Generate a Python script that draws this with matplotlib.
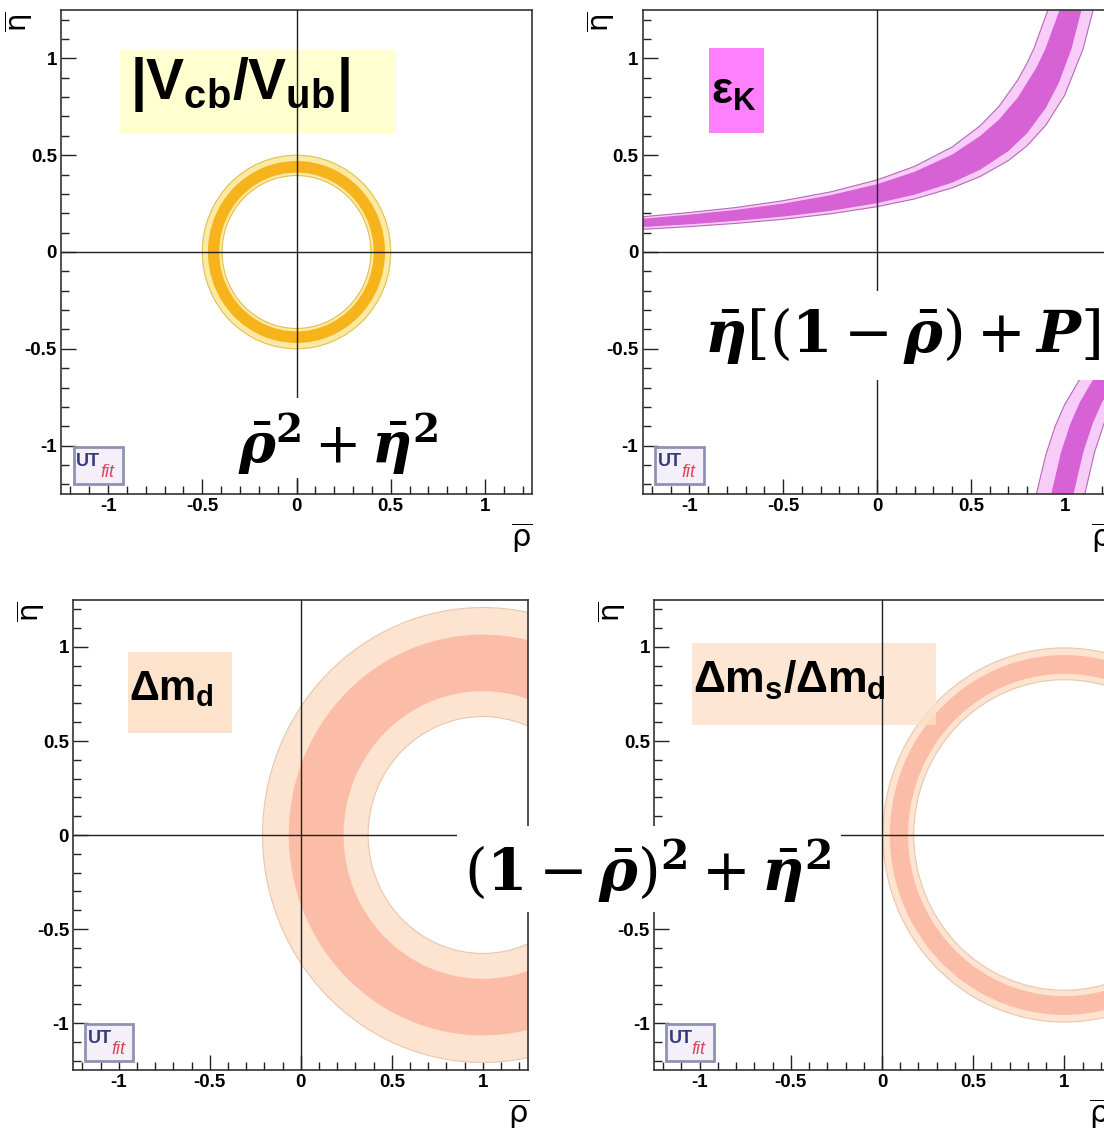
import matplotlib.pyplot as plt
from matplotlib import font_manager
from matplotlib.patches import Wedge, Circle, Polygon, Rectangle
from matplotlib.ticker import FixedLocator, MultipleLocator, FuncFormatter

installed = {f.name for f in font_manager.fontManager.ttflist}
NARROW = next(n for n in ('Liberation Sans Narrow', 'DejaVu Sans Condensed', 'Liberation Sans')
              if n in installed)

plt.rcParams['mathtext.fontset'] = 'custom'
for key in ('mathtext.rm', 'mathtext.it', 'mathtext.bf', 'mathtext.sf'):
    plt.rcParams[key] = NARROW + ':bold'
plt.rcParams['axes.unicode_minus'] = False

W, H = 1104, 1128
LIMITS = (-1.25, 1.25)
MAJOR_TICKS = [-1, -0.5, 0, 0.5, 1]

# |Vcb/Vub|: annulus around the origin, (inner, outer) radius
vub_center = (0.0, 0.0)
vub_light = (0.395, 0.500)
vub_dark = (0.410, 0.470)

# Delta m_d: annulus around (1, 0)
dmd_center = (1.0, 0.0)
dmd_light = (0.630, 1.210)
dmd_dark = (0.765, 1.066)

# Delta m_s / Delta m_d
dms_center = (1.0, 0.0)
dms_light = (0.826, 0.995)
dms_dark = (0.857, 0.957)

# epsilon_K, upper branch: band edges as (rho, eta) samples
ek_lo_rho = [-1.3, -1.25, -1.0, -0.75, -0.5, -0.25, 0.0, 0.2, 0.4, 0.55, 0.65, 0.75, 0.8, 0.836, 0.911, 0.927]
ek_lo_eta = [0.178, 0.182, 0.204, 0.230, 0.265, 0.310, 0.372, 0.442, 0.542, 0.652, 0.752, 0.888, 0.976, 1.05, 1.25, 1.3]
ek_do_rho = [-1.3, -1.25, -1.0, -0.75, -0.5, -0.25, 0.0, 0.2, 0.4, 0.55, 0.65, 0.75, 0.85, 0.898, 0.973, 0.988]
ek_do_eta = [0.168, 0.172, 0.193, 0.218, 0.250, 0.293, 0.350, 0.414, 0.503, 0.599, 0.684, 0.797, 0.953, 1.05, 1.25, 1.3]
ek_di_rho = [-1.3, -1.25, -1.0, -0.75, -0.5, -0.25, 0.0, 0.2, 0.4, 0.55, 0.7, 0.8, 0.9, 0.97, 1.037, 1.09, 1.101]
ek_di_eta = [0.127, 0.129, 0.143, 0.161, 0.183, 0.212, 0.252, 0.296, 0.358, 0.425, 0.521, 0.613, 0.744, 0.875, 1.05, 1.25, 1.3]
ek_li_rho = [-1.3, -1.25, -1.0, -0.75, -0.5, -0.25, 0.0, 0.2, 0.4, 0.55, 0.7, 0.8, 0.9, 1.0, 1.099, 1.152, 1.163]
ek_li_eta = [0.114, 0.117, 0.131, 0.148, 0.169, 0.197, 0.234, 0.274, 0.331, 0.390, 0.472, 0.549, 0.655, 0.809, 1.05, 1.25, 1.3]

# epsilon_K, lower branch
ek2_lo_rho = [0.83, 0.85, 0.9, 0.95, 1.0, 1.076, 1.15, 1.25, 1.35]
ek2_lo_eta = [-1.3, -1.249, -1.046, -0.899, -0.789, -0.665, -0.576, -0.489, -0.424]
ek2_do_rho = [0.91, 0.929, 0.98, 1.03, 1.08, 1.148, 1.25, 1.35]
ek2_do_eta = [-1.3, -1.249, -1.037, -0.889, -0.778, -0.665, -0.546, -0.464]
ek2_di_rho = [1.03, 1.05, 1.1, 1.15, 1.2, 1.3, 1.4]
ek2_di_eta = [-1.3, -1.24, -1.033, -0.886, -0.775, -0.62, -0.517]
ek2_li_rho = [1.09, 1.11, 1.16, 1.21, 1.26, 1.36, 1.46]
ek2_li_eta = [-1.3, -1.24, -1.033, -0.886, -0.775, -0.62, -0.517]

YELLOW = ('#fbe9a4', '#f6b31c', '#e0c04e')
MAGENTA = ('#f8ccf8', '#d762d5', '#b46ab4')
SALMON = ('#fde4d0', '#fbbda7', '#e9c6b0')

fig = plt.figure(figsize=(W / 100, H / 100), dpi=100)


def px_rect(x0, y0, x1, y1):
    return (x0 / W, 1 - y1 / H), (x1 - x0) / W, (y1 - y0) / H


def make_axes(x0, y0, x1, y1):
    (l, b), w, h = px_rect(x0, y0, x1, y1)
    ax = fig.add_axes([l, b, w, h])
    ax.set_xlim(*LIMITS)
    ax.set_ylim(*LIMITS)
    for axis in (ax.xaxis, ax.yaxis):
        axis.set_major_locator(FixedLocator(MAJOR_TICKS))
        axis.set_minor_locator(MultipleLocator(0.1))
        axis.set_major_formatter(FuncFormatter(lambda v, _: '%g' % v))
    ax.tick_params(which='both', direction='in', top=False, right=False,
                   width=1.0, color='#222222')
    ax.tick_params(which='major', length=11, labelsize=13.5, pad=3)
    ax.tick_params(which='minor', length=5.5)
    for lab in ax.get_xticklabels() + ax.get_yticklabels():
        lab.set_fontweight('bold')
        lab.set_family('Liberation Sans')
    for sp in ax.spines.values():
        sp.set_linewidth(1.2)
        sp.set_color('#333333')
    ax.axhline(0, color='#222222', lw=1.0, zorder=4)
    ax.axvline(0, color='#222222', lw=1.0, zorder=4)
    ax.annotate(r'$\overline{\mathrm{\eta}}$', xy=(0, 1), xycoords='axes fraction',
                xytext=(-42, -12), textcoords='offset pixels', rotation=90,
                ha='center', va='center', fontsize=21, math_fontfamily='dejavusans')
    ax.annotate(r'$\overline{\mathrm{\rho}}$', xy=(1, 0), xycoords='axes fraction',
                xytext=(-10, -44), textcoords='offset pixels',
                ha='center', va='center', fontsize=22, math_fontfamily='dejavusans')
    # UTfit logo
    ax.add_patch(Rectangle((0.027, 0.020), 0.104, 0.077, transform=ax.transAxes,
                           facecolor='#f4eff8', edgecolor='#8e93b3', lw=2, zorder=6))
    ax.text(0.032, 0.068, 'UT', transform=ax.transAxes, color='#343a7c', fontsize=13,
            fontweight='bold', family=NARROW, va='center', zorder=7)
    ax.text(0.083, 0.044, 'fit', transform=ax.transAxes, color='#d84a5c', fontsize=13,
            style='italic', family='Liberation Sans', va='center', zorder=7)
    return ax


def ring(ax, center, light, dark, colors):
    for (r_in, r_out), col in ((light, colors[0]), (dark, colors[1])):
        ax.add_patch(Wedge(center, r_out, 0, 360, width=r_out - r_in,
                           facecolor=col, edgecolor='none', zorder=2))
    for r in light:
        ax.add_patch(Circle(center, r, fill=False, edgecolor=colors[2], lw=0.8, zorder=2))


def band(ax, rho_a, eta_a, rho_b, eta_b, color, edge=None):
    pts = list(zip(rho_a, eta_a)) + list(zip(rho_b, eta_b))[::-1]
    ax.add_patch(Polygon(pts, closed=True, facecolor=color, edgecolor='none', zorder=2))
    if edge:
        ax.plot(rho_a, eta_a, color=edge, lw=0.8, zorder=2)
        ax.plot(rho_b, eta_b, color=edge, lw=0.8, zorder=2)


def label(ax, box, xy, text, size, color, alpha=1.0):
    (l, b), w, h = px_rect(*box)
    ax.add_patch(Rectangle((l, b), w, h, transform=fig.transFigure,
                           facecolor=color, edgecolor='none', alpha=alpha, zorder=3))
    ax.text(xy[0] / W, 1 - xy[1] / H, text, transform=fig.transFigure,
            fontsize=size, ha='left', va='center', zorder=5)


def formula(box, xy, text, size, ha='center'):
    (l, b), w, h = px_rect(*box)
    fig.add_artist(Rectangle((l, b), w, h, transform=fig.transFigure,
                             facecolor='white', edgecolor='none', zorder=10))
    fig.text(xy[0] / W, 1 - xy[1] / H, text, fontsize=size, ha=ha, va='center',
             math_fontfamily='dejavuserif', zorder=11)


# top left: |Vcb/Vub|
ax1 = make_axes(61, 10, 532, 494)
ring(ax1, vub_center, vub_light, vub_dark, YELLOW)
label(ax1, (120, 50, 396, 133), (130, 84), r'$|V_{cb}/V_{ub}|$', 41, '#ffffc8', 0.85)

# top right: epsilon_K
ax2 = make_axes(642.5, 10, 1111.5, 494)
band(ax2, ek_lo_rho, ek_lo_eta, ek_li_rho, ek_li_eta, MAGENTA[0], MAGENTA[2])
band(ax2, ek_do_rho, ek_do_eta, ek_di_rho, ek_di_eta, MAGENTA[1])
band(ax2, ek2_lo_rho, ek2_lo_eta, ek2_li_rho, ek2_li_eta, MAGENTA[0], MAGENTA[2])
band(ax2, ek2_do_rho, ek2_do_eta, ek2_di_rho, ek2_di_eta, MAGENTA[1])
label(ax2, (709, 48, 764, 133), (711, 92), r'$\varepsilon_K$', 32, '#ff80ff')

# bottom left: Delta m_d
ax3 = make_axes(73.2, 600, 528.3, 1070)
ring(ax3, dmd_center, dmd_light, dmd_dark, SALMON)
label(ax3, (128, 652, 232, 733), (129, 688), r'$\Delta m_d$', 30, '#fde3cc')

# bottom right: Delta m_s / Delta m_d
ax4 = make_axes(654, 600, 1110, 1070)
ring(ax4, dms_center, dms_light, dms_dark, SALMON)
label(ax4, (692, 643, 936, 725), (693, 680), r'$\Delta m_s/\Delta m_d$', 32, '#fde0c8', 0.8)
# the "0" label here sits under the formula box
ax4.yaxis.get_major_ticks()[2].label1.set_visible(False)

# unitarity-triangle side formulas
formula((230, 398, 445, 478), (338, 444),
        r'$\bar{\boldsymbol{\rho}}^{\mathbf{2}}+\bar{\boldsymbol{\eta}}^{\mathbf{2}}$', 40)
formula((680, 291, 1104, 380), (704, 336),
        r'$\bar{\boldsymbol{\eta}}[(\mathbf{1}-\bar{\boldsymbol{\rho}})+\boldsymbol{P}]$', 42, ha='left')
formula((457, 826, 841, 912), (648, 871),
        r'$(\mathbf{1}-\bar{\boldsymbol{\rho}})^{\mathbf{2}}+\bar{\boldsymbol{\eta}}^{\mathbf{2}}$', 42)

fig.savefig('out.png', dpi=100)
